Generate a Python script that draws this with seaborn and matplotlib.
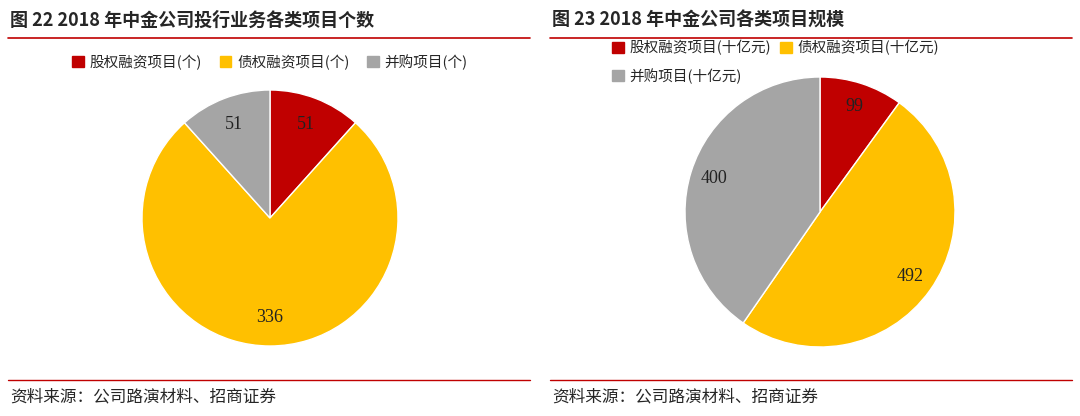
import matplotlib
matplotlib.use("Agg")
import matplotlib.pyplot as plt
import seaborn as sns
from matplotlib.lines import Line2D
from matplotlib.patches import Patch

sns.set_theme(style="white")
plt.rcParams['font.family'] = ['Noto Sans CJK SC', 'DejaVu Sans']

titles = ["图 22 2018 年中金公司投行业务各类项目个数", "图 23 2018 年中金公司各类项目规模"]
labels_left = ["股权融资项目(个)", "债权融资项目(个)", "并购项目(个)"]
values_left = [51, 336, 51]
labels_right = ["股权融资项目(十亿元)", "债权融资项目(十亿元)", "并购项目(十亿元)"]
values_right = [99, 492, 400]
source = "资料来源：公司路演材料、招商证券"
colors = ["#C00000", "#FFC000", "#A5A5A5"]

W, H = 1080, 416
fig = plt.figure(figsize=(10.8, 4.16), dpi=100)

def fx(x): return x / W
def fy(y): return 1 - y / H

for (x0, x1) in [(8, 530), (550, 1072)]:
    fig.add_artist(Line2D([fx(x0), fx(x1)], [fy(38), fy(38)], color="#C00000", lw=1.2))
    fig.add_artist(Line2D([fx(x0), fx(x1)], [fy(380), fy(380)], color="#C00000", lw=1.0))

fig.text(fx(10), fy(20), titles[0], fontsize=13, fontweight="bold", va="center", ha="left")
fig.text(fx(552), fy(20), titles[1], fontsize=13, fontweight="bold", va="center", ha="left")
fig.text(fx(10), fy(397), source, fontsize=12, va="center", ha="left")
fig.text(fx(552), fy(397), source, fontsize=12, va="center", ha="left")

def draw_pie(cx, cy, r, vals, dist):
    ax = fig.add_axes([fx(cx - r), fy(cy + r), 2 * r / W, 2 * r / H])
    wedges, texts, autotexts = ax.pie(vals, colors=colors, startangle=90, counterclock=False,
                                      autopct=lambda p: "", pctdistance=dist,
                                      wedgeprops=dict(edgecolor="white", linewidth=1))
    for t, v in zip(autotexts, vals):
        t.set_text(str(v))
        t.set_fontfamily("Liberation Serif")
        t.set_fontsize(13)
        t.set_color("#222222")
    ax.set_xlim(-1, 1)
    ax.set_ylim(-1, 1)
    ax.set_aspect("equal")
    ax.axis("off")
    return ax

draw_pie(270, 218, 128, values_left, 0.78)
draw_pie(820, 212, 135, values_right, 0.82)

handles_l = [Patch(color=c, label=l) for c, l in zip(colors, labels_left)]
fig.legend(handles=handles_l, loc="center", bbox_to_anchor=(fx(270), fy(62)), ncol=3,
           frameon=False, fontsize=10.5, handlelength=0.8, handleheight=0.8, columnspacing=1.2,
           handletextpad=0.4)
handles_r = [Patch(color=c, label=l) for c, l in zip(colors, labels_right)]
fig.legend(handles=handles_r[:2], loc="center left", bbox_to_anchor=(fx(612), fy(48)), ncol=2,
           frameon=False, fontsize=10.5, handlelength=0.8, handleheight=0.8, columnspacing=0.6,
           handletextpad=0.4, borderaxespad=0, borderpad=0)
fig.legend(handles=handles_r[2:], loc="center left", bbox_to_anchor=(fx(612), fy(76)), ncol=1,
           frameon=False, fontsize=10.5, handlelength=0.8, handleheight=0.8,
           handletextpad=0.4, borderaxespad=0, borderpad=0)

fig.savefig("out.png", dpi=100, facecolor="white")
